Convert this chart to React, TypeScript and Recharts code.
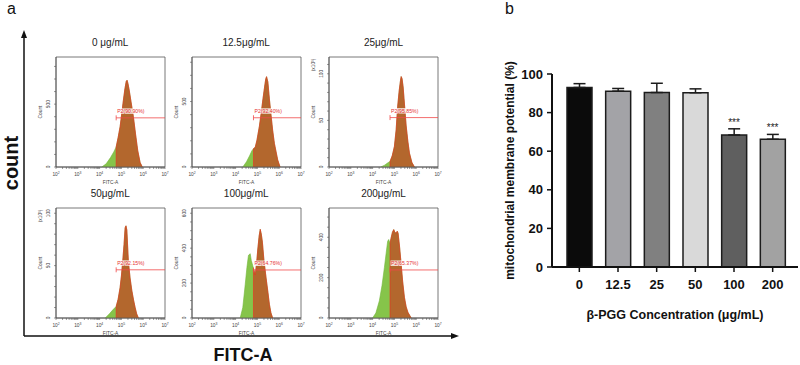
import React from "react";
import {
  Area,
  Bar,
  Cell,
  ComposedChart,
  ErrorBar,
  Label,
  LabelList,
  Line,
  ReferenceArea,
  ReferenceLine,
  XAxis,
  YAxis,
} from "recharts";

const FONT = "Arial, 'Liberation Sans', Helvetica, sans-serif";

// ---- panel a: FITC-A histograms, x in log10(FITC-A) ----
const PANEL_TITLES = ["0 μg/mL", "12.5μg/mL", "25μg/mL", "50μg/mL", "100μg/mL", "200μg/mL"];
const GATE_LABELS = ["P2(90.90%)", "P2(92.40%)", "P2(95.85%)", "P2(92.15%)", "P2(64.76%)", "P2(65.37%)"];
const GATE_AT = [4.76, 4.82, 4.8, 4.76, 4.82, 4.8];
const GATE_LEVEL = [391, 376, 53, 46, 275, 238];
const COUNT_MAX = [875, 840, 118, 105, 630, 545];
const COUNT_TICKS = [
  [0, 100, 200, 300, 400, 500, 600, 700, 800],
  [0, 100, 200, 300, 400, 500, 600, 700, 800],
  [0, 10, 20, 30, 40, 50, 60, 70, 80, 90, 100, 110],
  [0, 10, 20, 30, 40, 50, 60, 70, 80, 90, 100],
  [0, 50, 100, 150, 200, 250, 300, 350, 400, 450, 500, 550, 600],
  [0, 50, 100, 150, 200, 250, 300, 350, 400, 450, 500],
];
const COUNT_LABELED = [[0, 500], [0, 500], [0, 50, 100], [0, 50, 100], [0, 200, 400, 600], [0, 200, 400]];
const COUNT_UNIT = ["", "", "(x10³)", "(x10³)", "", ""];
const DECADES = [2, 3, 4, 5, 6, 7];

const FITC_0 = [4.1, 4.3, 4.5, 4.65, 4.76, 4.85, 4.94, 5.02, 5.09, 5.16, 5.22, 5.26, 5.3, 5.36, 5.45, 5.55, 5.65, 5.75, 5.86, 5.96];
const COUNT_0 = [0, 25, 75, 120, 160, 235, 320, 430, 530, 620, 680, 690, 665, 610, 510, 400, 260, 130, 35, 0];
const FITC_1 = [4.33, 4.5, 4.64, 4.75, 4.82, 4.9, 4.98, 5.09, 5.18, 5.25, 5.32, 5.38, 5.42, 5.48, 5.55, 5.63, 5.7, 5.78, 5.93, 6.04];
const COUNT_1 = [0, 40, 85, 125, 140, 150, 205, 310, 420, 513, 600, 670, 690, 650, 520, 390, 280, 180, 55, 0];
const FITC_2 = [4.38, 4.55, 4.7, 4.8, 4.9, 5.0, 5.08, 5.15, 5.22, 5.28, 5.31, 5.35, 5.4, 5.47, 5.54, 5.62, 5.69, 5.8, 5.92];
const COUNT_2 = [0, 2, 4.5, 6, 12, 22, 40, 65, 82, 93, 97, 95, 86, 65, 44, 27, 15, 5, 0];
const FITC_3 = [4.26, 4.45, 4.62, 4.76, 4.85, 4.94, 5.0, 5.06, 5.12, 5.17, 5.21, 5.25, 5.32, 5.4, 5.48, 5.56, 5.63, 5.7, 5.78];
const COUNT_3 = [0, 4, 8, 11, 18, 29, 40, 54, 70, 86, 88, 84, 54, 38, 26, 17, 10, 4, 0];
const FITC_4 = [4.21, 4.33, 4.44, 4.52, 4.59, 4.67, 4.72, 4.78, 4.82, 4.9, 4.96, 5.02, 5.08, 5.13, 5.18, 5.23, 5.3, 5.4, 5.48, 5.55, 5.62, 5.7];
const COUNT_4 = [0, 60, 190, 290, 359, 368, 330, 303, 285, 247, 310, 396, 470, 508, 480, 434, 330, 228, 150, 79, 30, 0];
const FITC_5 = [4.0, 4.15, 4.31, 4.43, 4.54, 4.62, 4.69, 4.74, 4.8, 4.85, 4.91, 4.97, 5.02, 5.08, 5.13, 5.17, 5.24, 5.31, 5.38, 5.46, 5.54, 5.62, 5.77];
const COUNT_5 = [0, 25, 85, 160, 249, 320, 380, 389, 370, 397, 425, 438, 425, 420, 430, 420, 350, 266, 180, 102, 55, 28, 0];

const HIST_X = [FITC_0, FITC_1, FITC_2, FITC_3, FITC_4, FITC_5];
const HIST_Y = [COUNT_0, COUNT_1, COUNT_2, COUNT_3, COUNT_4, COUNT_5];

// plot frame of each small histogram on the page
const FRAME_LEFT = [55.7, 191.7, 329, 55.7, 191.7, 329];
const FRAME_TOP = [57.3, 57.3, 57.3, 208.3, 208.3, 208.3];
const FRAME_W = 109;
const FRAME_H = 110;

const LOG_TICKS = DECADES.flatMap((d) =>
  d === 7 ? [d] : [d, ...[2, 3, 4, 5, 6, 7, 8, 9].map((k) => d + Math.log10(k))]
);

// ---- panel b: mitochondrial membrane potential ----
const CONC = ["0", "12.5", "25", "50", "100", "200"];
const MMP_MEAN = [93.0, 91.1, 90.4, 90.3, 68.4, 66.2];
const MMP_SD = [2.0, 1.4, 4.8, 2.0, 3.2, 2.5];
const MMP_SIG = ["", "", "", "", "***", "***"];
const BAR_COLORS = ["#0b0b0b", "#a3a3a7", "#808080", "#d9d9d9", "#5f5f5f", "#a2a2a2"];

function histRows(xs: number[], ys: number[], gate: number) {
  const rows: any[] = [];
  xs.forEach((x, k) => {
    const y = ys[k];
    if (x === gate) {
      rows.push({ x, all: y, gated: 0 });
      rows.push({ x, all: y, gated: y });
    } else {
      rows.push({ x, all: y, gated: x > gate ? y : null });
    }
  });
  return rows;
}

function DecadeTick(props: any) {
  const { x, y, payload } = props;
  const v = payload.value;
  if (!Number.isInteger(v)) return null;
  return (
    <text x={x} y={y + 5} textAnchor="middle" fontSize={4.8} fill="#444" fontFamily={FONT}>
      10
      <tspan dy={-1.8} fontSize={3.4}>
        {v}
      </tspan>
    </text>
  );
}

const countTick = (labeled: number[]) => (props: any) => {
  const { x, y, payload } = props;
  if (!labeled.includes(payload.value)) return null;
  const cx = x - 2;
  return (
    <text
      x={cx}
      y={y}
      transform={`rotate(-90 ${cx} ${y})`}
      textAnchor="middle"
      fontSize={4.8}
      fill="#444"
      fontFamily={FONT}
    >
      {payload.value}
    </text>
  );
};

const rotLabel = (text: string, dx: number, dy: number | null, size: number, weight = "normal", color = "#444") =>
  (props: any) => {
    const vb = props.viewBox || {};
    const cx = vb.x + dx;
    const cy = dy == null ? vb.y + vb.height / 2 : vb.y + dy;
    return (
      <text
        x={cx}
        y={cy}
        transform={`rotate(-90 ${cx} ${cy})`}
        textAnchor="middle"
        dominantBaseline="central"
        fontSize={size}
        fontWeight={weight}
        fill={color}
        fontFamily={FONT}
      >
        {text}
      </text>
    );
  };

const flatLabel = (text: string, dy: number, size: number, weight = "normal", color = "#444") =>
  (props: any) => {
    const vb = props.viewBox || {};
    return (
      <text
        x={vb.x + vb.width / 2}
        y={vb.y + dy}
        textAnchor="middle"
        dominantBaseline="central"
        fontSize={size}
        fontWeight={weight}
        fill={color}
        fontFamily={FONT}
      >
        {text}
      </text>
    );
  };

const gateShape = (label: string) => (p: any) => (
  <g>
    <line x1={p.x1} y1={p.y1} x2={p.x2} y2={p.y2} stroke="#f04a4a" strokeWidth={0.8} />
    <line x1={p.x1} y1={p.y1 - 2.5} x2={p.x1} y2={p.y1 + 2.5} stroke="#f04a4a" strokeWidth={0.8} />
    <rect x={p.x1 + 0.5} y={p.y1 - 9.5} width={29} height={5.5} fill="#fff" fillOpacity={0.8} />
    <text x={p.x1 + 1} y={p.y1 - 5} fontSize={5.2} fill="#e63232" fontFamily={FONT}>
      {label}
    </text>
  </g>
);

function StarLabel(props: any) {
  const { x, y, value } = props;
  if (!value) return null;
  return (
    <text x={x} y={y - 3} textAnchor="middle" fontSize={10} fill="#222" fontFamily={FONT}>
      {value}
    </text>
  );
}

function Histogram({ i }: { i: number }) {
  const data = histRows(HIST_X[i], HIST_Y[i], GATE_AT[i]);
  const yMax = COUNT_MAX[i];
  return (
    <div style={{ position: "absolute", left: FRAME_LEFT[i] - 30, top: FRAME_TOP[i] - 2 }}>
      <ComposedChart
        width={30 + FRAME_W + 4}
        height={2 + FRAME_H + 22}
        data={data}
        margin={{ top: 2, right: 4, bottom: 0, left: 0 }}
      >
        <XAxis
          dataKey="x"
          type="number"
          domain={[2, 7]}
          ticks={LOG_TICKS}
          interval={0}
          tick={<DecadeTick />}
          tickSize={2}
          height={22}
          axisLine={{ stroke: "#555", strokeWidth: 0.8 }}
          tickLine={{ stroke: "#555", strokeWidth: 0.6 }}
          label={{ content: flatLabel("FITC-A", 15.5, 4.8) }}
        />
        <YAxis
          type="number"
          domain={[0, yMax]}
          ticks={COUNT_TICKS[i]}
          interval={0}
          tick={countTick(COUNT_LABELED[i])}
          tickSize={2}
          width={30}
          axisLine={{ stroke: "#555", strokeWidth: 0.8 }}
          tickLine={{ stroke: "#555", strokeWidth: 0.6 }}
          label={{ content: rotLabel("Count", 14.5, null, 4.8) }}
        >
          {COUNT_UNIT[i] && <Label content={rotLabel(COUNT_UNIT[i], 14.5, 8, 4.8)} />}
        </YAxis>
        <ReferenceArea x1={2} x2={7} y1={0} y2={yMax} fill="none" stroke="#555" strokeWidth={0.8} />
        <Area
          dataKey="all"
          type="linear"
          fill="#86c44a"
          fillOpacity={1}
          stroke="#72b53a"
          strokeWidth={0.6}
          isAnimationActive={false}
        />
        <Area
          dataKey="gated"
          type="linear"
          fill="#b3672d"
          fillOpacity={1}
          stroke="#ee2b24"
          strokeWidth={0.6}
          isAnimationActive={false}
        />
        <ReferenceLine
          segment={[
            { x: GATE_AT[i], y: GATE_LEVEL[i] },
            { x: 7, y: GATE_LEVEL[i] },
          ]}
          shape={gateShape(GATE_LABELS[i])}
        />
      </ComposedChart>
    </div>
  );
}

function MmpChart() {
  const data = CONC.map((c, k) => ({
    conc: c,
    mean: MMP_MEAN[k],
    err: [0, MMP_SD[k]],
    sigTop: MMP_SIG[k] ? MMP_MEAN[k] + MMP_SD[k] : null,
    sig: MMP_SIG[k],
  }));
  return (
    <div style={{ position: "absolute", left: 500, top: 40 }}>
      <ComposedChart width={300} height={285} data={data} margin={{ top: 34, right: 2, bottom: 0, left: 0 }}>
        <XAxis
          dataKey="conc"
          type="category"
          height={58}
          padding={{ left: 8, right: 6 }}
          tick={{ fill: "#111", fontSize: 13, fontWeight: "bold", fontFamily: FONT }}
          tickSize={5}
          tickMargin={8}
          tickLine={{ stroke: "#111", strokeWidth: 1.5 }}
          axisLine={{ stroke: "#111", strokeWidth: 2 }}
          label={{ content: flatLabel("β-PGG Concentration (μg/mL)", 48, 12.5, "bold", "#111") }}
        />
        <YAxis
          domain={[0, 100]}
          ticks={[0, 20, 40, 60, 80, 100]}
          interval={0}
          width={52}
          tick={{ fill: "#111", fontSize: 13, fontWeight: "bold", fontFamily: FONT }}
          tickSize={5}
          tickMargin={4}
          tickLine={{ stroke: "#111", strokeWidth: 1.5 }}
          axisLine={{ stroke: "#111", strokeWidth: 2 }}
          label={{ content: rotLabel("mitochondrial membrane potential (%)", 10, null, 12, "bold", "#111") }}
        />
        <Bar dataKey="mean" barSize={25} stroke="#1c1c1c" strokeWidth={1.5} isAnimationActive={false}>
          {data.map((d, k) => (
            <Cell key={d.conc} fill={BAR_COLORS[k]} />
          ))}
          <ErrorBar dataKey="err" width={6} stroke="#1c1c1c" strokeWidth={1.5} direction="y" />
        </Bar>
        <Line dataKey="sigTop" stroke="none" dot={false} activeDot={false} isAnimationActive={false}>
          <LabelList dataKey="sig" content={<StarLabel />} />
        </Line>
      </ComposedChart>
    </div>
  );
}

export default function App() {
  return (
    <div style={{ position: "absolute", left: 0, top: 0, width: 800, height: 365, background: "#fff", fontFamily: FONT }}>
      <svg width={800} height={365} style={{ position: "absolute", left: 0, top: 0 }}>
        <text x={7} y={14} fontSize={16} fill="#111" fontFamily={FONT}>a</text>
        <text x={505} y={14} fontSize={16} fill="#111" fontFamily={FONT}>b</text>
        <line x1={24} y1={336} x2={24} y2={37} stroke="#111" strokeWidth={1.5} />
        <polygon points="24,30 21,38 27,38" fill="#111" />
        <line x1={24} y1={336} x2={452} y2={336} stroke="#111" strokeWidth={1.5} />
        <polygon points="459,336 451,333 451,339" fill="#111" />
        <text
          x={11}
          y={163}
          transform="rotate(-90 11 163)"
          textAnchor="middle"
          dominantBaseline="central"
          fontSize={20}
          fontWeight="bold"
          fill="#111"
          fontFamily={FONT}
        >
          count
        </text>
        <text x={243} y={361} textAnchor="middle" fontSize={18} fontWeight="bold" fill="#111" fontFamily={FONT}>
          FITC-A
        </text>
        {PANEL_TITLES.map((t, i) => (
          <text
            key={t}
            x={FRAME_LEFT[i] + FRAME_W / 2}
            y={FRAME_TOP[i] - 11}
            textAnchor="middle"
            fontSize={10}
            fill="#222"
            fontFamily={FONT}
          >
            {t}
          </text>
        ))}
      </svg>
      {PANEL_TITLES.map((t, i) => (
        <Histogram key={t} i={i} />
      ))}
      <MmpChart />
    </div>
  );
}
